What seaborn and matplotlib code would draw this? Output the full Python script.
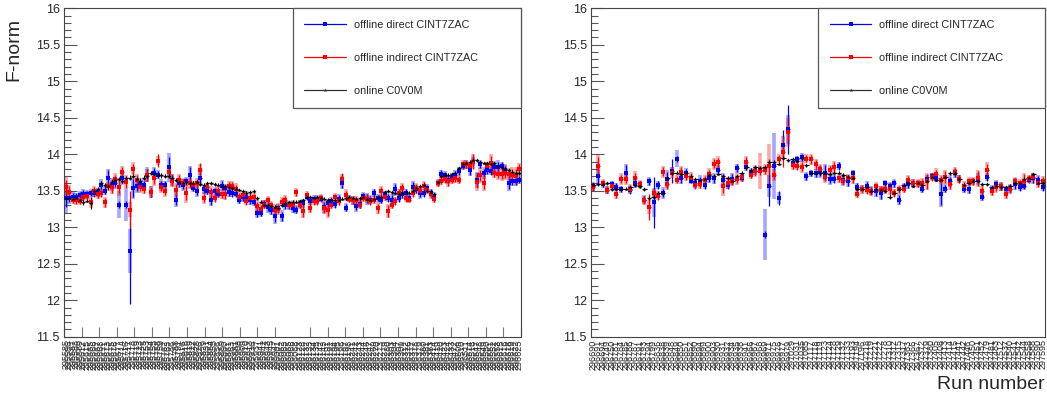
import numpy as np
import pandas as pd
import matplotlib
matplotlib.use("Agg")
import matplotlib.pyplot as plt
from matplotlib.lines import Line2D
from matplotlib.ticker import MultipleLocator, FixedLocator, FuncFormatter, NullFormatter
import seaborn as sns

sns.set_style("ticks")
plt.rcParams["font.family"] = ["Liberation Sans", "DejaVu Sans"]

# ---------------- run lists ----------------
runs_q = [295585, 295586, 295587, 295588, 295589, 295612, 295615, 295665, 295666, 295667,
          295668, 295671, 295673, 295675, 295676, 295677, 295714, 295716, 295717, 295718,
          295719, 295723, 295725, 295753, 295754, 295755, 295758, 295759, 295762, 295763,
          295786, 295788, 295791, 295816, 295818, 295819, 295822, 295825, 295826, 295829,
          295831, 295854, 295855, 295856, 295859, 295860, 295861, 295863, 295881, 295908,
          295909, 295910, 295913, 295936, 295937, 295941, 295942, 295943, 295945, 295947,
          296061, 296062, 296063, 296065, 296066, 296068, 296123, 296128, 296132, 296133,
          296134, 296135, 296142, 296143, 296191, 296192, 296194, 296195, 296196, 296197,
          296198, 296241, 296242, 296243, 296244, 296246, 296247, 296269, 296270, 296273,
          296279, 296280, 296303, 296304, 296307, 296309, 296312, 296376, 296377, 296378,
          296379, 296380, 296381, 296383, 296414, 296419, 296420, 296423, 296424, 296433,
          296472, 296509, 296510, 296511, 296514, 296516, 296547, 296548, 296549, 296550,
          296551, 296552, 296553, 296615, 296616, 296618, 296619, 296622, 296623]

runs_r = [296690, 296691, 296694, 296749, 296750, 296781, 296784, 296785, 296786, 296787,
          296791, 296793, 296794, 296799, 296836, 296838, 296839, 296848, 296849, 296850,
          296851, 296852, 296890, 296894, 296899, 296900, 296903, 296930, 296931, 296932,
          296934, 296935, 296938, 296941, 296966, 296967, 296968, 296969, 296971, 296975,
          296976, 296977, 296979, 297029, 297031, 297035, 297085, 297117, 297118, 297119,
          297123, 297124, 297128, 297129, 297132, 297133, 297193, 297194, 297196, 297218,
          297219, 297221, 297222, 297278, 297310, 297312, 297315, 297317, 297363, 297366,
          297367, 297372, 297379, 297380, 297405, 297408, 297413, 297414, 297415, 297441,
          297442, 297446, 297450, 297451, 297452, 297479, 297481, 297483, 297512, 297537,
          297540, 297541, 297542, 297544, 297558, 297588, 297590, 297595]

# ---------------- first period ----------------
direct_q = [13.40, 13.40, 13.42, 13.42, 13.44, 13.45, 13.45, 13.47, 13.47, 13.48,
            13.58, 13.50, 13.68, 13.58, 13.61, 13.31, 13.68, 13.31, 12.67, 13.54,
            13.56, 13.61, 13.58, 13.72, 13.48, 13.74, 13.72, 13.58, 13.58, 13.82,
            13.65, 13.38, 13.60, 13.58, 13.63, 13.72, 13.54, 13.50, 13.67, 13.52,
            13.50, 13.37, 13.49, 13.46, 13.57, 13.54, 13.48, 13.47, 13.46, 13.38,
            13.41, 13.42, 13.37, 13.35, 13.20, 13.20, 13.32, 13.28, 13.23, 13.15,
            13.26, 13.15, 13.31, 13.30, 13.27, 13.24, 13.32,
            13.33, 13.42, 13.36, 13.39, 13.38, 13.39, 13.28, 13.33, 13.36, 13.32,
            13.39, 13.61, 13.27, 13.39, 13.37, 13.29, 13.32, 13.43, 13.39, 13.38,
            13.47, 13.40, 13.38, 13.45, 13.40, 13.38, 13.52, 13.40, 13.45, 13.47,
            13.40, 13.55, 13.52, 13.47, 13.47, 13.54, 13.47, 13.42, 13.61, 13.73,
            13.72, 13.65, 13.69, 13.72, 13.77, 13.84, 13.86, 13.78, 13.90, 13.65,
            13.86, 13.74, 13.78, 13.77, 13.83, 13.82, 13.84, 13.78, 13.60, 13.63,
            13.64, 13.65]
direct_q_stat = [0.12, 0.06, 0.05, 0.05, 0.04, 0.06, 0.05, 0.04, 0.05, 0.05,
                 0.06, 0.05, 0.10, 0.07, 0.06, 0.05, 0.08, 0.05, 0.72, 0.12,
                 0.07, 0.05, 0.06, 0.08, 0.06, 0.07, 0.05, 0.06, 0.05, 0.14,
                 0.06, 0.08, 0.05, 0.06, 0.05, 0.10, 0.05, 0.06, 0.08, 0.05,
                 0.05, 0.06, 0.05, 0.05, 0.06, 0.04, 0.05, 0.05, 0.04, 0.05,
                 0.05, 0.06, 0.05, 0.05, 0.06, 0.05, 0.05, 0.06, 0.05, 0.08,
                 0.05, 0.06, 0.06, 0.05, 0.06, 0.05, 0.05, 0.05, 0.04, 0.05,
                 0.04, 0.05, 0.04, 0.06, 0.05, 0.04, 0.05, 0.05, 0.07, 0.05,
                 0.04, 0.05, 0.06, 0.05, 0.04, 0.06, 0.05, 0.05, 0.04, 0.05,
                 0.04, 0.05, 0.06, 0.07, 0.05, 0.05, 0.05, 0.04, 0.07, 0.05,
                 0.06, 0.05, 0.04, 0.05, 0.05, 0.04, 0.05, 0.04, 0.05, 0.04,
                 0.05, 0.05, 0.04, 0.05, 0.06, 0.05, 0.09, 0.05, 0.06, 0.05,
                 0.05, 0.06, 0.08, 0.05, 0.06, 0.08, 0.05, 0.06, 0.05]
direct_q_sys = [0.20, 0.08, 0.06, 0.05, 0.05, 0.08, 0.06, 0.05, 0.06, 0.06,
                0.08, 0.06, 0.12, 0.09, 0.08, 0.18, 0.10, 0.22, 0.30, 0.15,
                0.09, 0.06, 0.08, 0.10, 0.08, 0.09, 0.06, 0.08, 0.06, 0.20,
                0.08, 0.10, 0.06, 0.08, 0.06, 0.12, 0.06, 0.08, 0.10, 0.06,
                0.06, 0.08, 0.06, 0.06, 0.08, 0.05, 0.06, 0.06, 0.05, 0.06,
                0.06, 0.08, 0.06, 0.06, 0.08, 0.06, 0.06, 0.08, 0.06, 0.10,
                0.06, 0.08, 0.08, 0.06, 0.08, 0.06, 0.06, 0.06, 0.05, 0.06,
                0.05, 0.06, 0.05, 0.08, 0.06, 0.05, 0.06, 0.06, 0.09, 0.06,
                0.05, 0.06, 0.08, 0.06, 0.05, 0.08, 0.06, 0.06, 0.05, 0.06,
                0.05, 0.06, 0.08, 0.09, 0.06, 0.06, 0.06, 0.05, 0.09, 0.06,
                0.08, 0.06, 0.05, 0.06, 0.06, 0.05, 0.06, 0.05, 0.06, 0.05,
                0.06, 0.06, 0.05, 0.06, 0.08, 0.06, 0.11, 0.06, 0.08, 0.06,
                0.06, 0.08, 0.10, 0.06, 0.08, 0.10, 0.06, 0.08, 0.06]

indirect_q = [13.55, 13.48, 13.38, 13.37, 13.36, 13.42, 13.43, 13.34, 13.49, 13.45,
              13.47, 13.34, 13.56, 13.55, 13.66, 13.55, 13.76, 13.62, 13.24, 13.80,
              13.65, 13.55, 13.52, 13.71, 13.48, 13.67, 13.91, 13.55, 13.50, 13.76,
              13.64, 13.51, 13.65, 13.61, 13.47, 13.60, 13.58, 13.60, 13.79, 13.40,
              13.55, 13.48, 13.40, 13.49, 13.45, 13.45, 13.57, 13.57, 13.52, 13.42,
              13.44, 13.36, 13.40, 13.42, 13.29, 13.25, 13.31, 13.37, 13.30, 13.24,
              13.25, 13.35,
              13.38, 13.30, 13.31, 13.48, 13.31, 13.22, 13.44, 13.27, 13.36, 13.36,
              13.40, 13.26, 13.23, 13.31, 13.41, 13.36, 13.66, 13.44, 13.39, 13.37,
              13.37, 13.31, 13.40, 13.39, 13.36, 13.38, 13.26, 13.49, 13.42, 13.22,
              13.31, 13.36, 13.47, 13.54, 13.40, 13.38, 13.47, 13.54, 13.50, 13.57,
              13.51, 13.45, 13.39, 13.60, 13.64, 13.66, 13.63, 13.65, 13.67, 13.65,
              13.86, 13.86, 13.84, 13.90, 13.62, 13.71, 13.61, 13.84, 13.88, 13.75,
              13.73, 13.73, 13.75, 13.73, 13.72, 13.70, 13.80]
indirect_q_stat = [0.10, 0.08, 0.05, 0.05, 0.04, 0.05, 0.05, 0.06, 0.06, 0.05,
                   0.05, 0.06, 0.05, 0.08, 0.06, 0.08, 0.06, 0.08, 0.25, 0.07,
                   0.06, 0.06, 0.05, 0.07, 0.06, 0.08, 0.09, 0.06, 0.06, 0.06,
                   0.07, 0.08, 0.06, 0.05, 0.10, 0.06, 0.05, 0.06, 0.09, 0.06,
                   0.05, 0.06, 0.05, 0.06, 0.05, 0.06, 0.05, 0.05, 0.06, 0.05,
                   0.05, 0.05, 0.05, 0.04, 0.06, 0.06, 0.05, 0.05, 0.05, 0.06,
                   0.06, 0.05, 0.05, 0.04, 0.05, 0.05, 0.05, 0.08, 0.04, 0.06,
                   0.05, 0.05, 0.04, 0.06, 0.08, 0.05, 0.05, 0.05, 0.09, 0.06,
                   0.04, 0.05, 0.05, 0.05, 0.04, 0.05, 0.05, 0.05, 0.06, 0.06,
                   0.05, 0.08, 0.05, 0.05, 0.05, 0.05, 0.05, 0.04, 0.05, 0.05,
                   0.04, 0.05, 0.04, 0.05, 0.05, 0.04, 0.05, 0.05, 0.06, 0.05,
                   0.05, 0.05, 0.05, 0.05, 0.05, 0.10, 0.08, 0.07, 0.09, 0.05,
                   0.09, 0.06, 0.06, 0.07, 0.08, 0.06, 0.08, 0.10, 0.06]
indirect_q_sys = [0.14, 0.10, 0.06, 0.06, 0.05, 0.06, 0.06, 0.08, 0.08, 0.06,
                  0.06, 0.08, 0.06, 0.10, 0.08, 0.12, 0.08, 0.10, 0.10, 0.09,
                  0.08, 0.08, 0.06, 0.09, 0.08, 0.10, 0.06, 0.08, 0.08, 0.08,
                  0.09, 0.10, 0.08, 0.06, 0.14, 0.08, 0.06, 0.08, 0.07, 0.08,
                  0.06, 0.08, 0.06, 0.08, 0.06, 0.08, 0.06, 0.06, 0.08, 0.06,
                  0.06, 0.06, 0.06, 0.05, 0.08, 0.08, 0.06, 0.06, 0.06, 0.08,
                  0.08, 0.06, 0.06, 0.05, 0.06, 0.06, 0.06, 0.10, 0.05, 0.08,
                  0.06, 0.06, 0.05, 0.08, 0.10, 0.06, 0.06, 0.06, 0.07, 0.08,
                  0.05, 0.06, 0.06, 0.06, 0.05, 0.06, 0.06, 0.06, 0.08, 0.08,
                  0.06, 0.10, 0.06, 0.06, 0.06, 0.06, 0.06, 0.05, 0.06, 0.06,
                  0.05, 0.06, 0.05, 0.06, 0.06, 0.05, 0.06, 0.06, 0.08, 0.06,
                  0.06, 0.06, 0.06, 0.06, 0.06, 0.10, 0.12, 0.10, 0.12, 0.06,
                  0.12, 0.08, 0.08, 0.10, 0.10, 0.08, 0.10, 0.12, 0.08]

online_q = [13.40, 13.40, 13.39, 13.40, 13.37, 13.34, 13.36, 13.33, 13.49, 13.52,
            13.60, 13.58, 13.56, 13.62, 13.65, 13.66, 13.64, 13.67, 13.68, 13.70,
            13.66, 13.64, 13.68, 13.70, 13.74, 13.73, 13.72, 13.71, 13.70, 13.70,
            13.67, 13.65, 13.62, 13.61, 13.62, 13.60, 13.61, 13.62, 13.59, 13.58,
            13.60, 13.60, 13.59, 13.58, 13.57, 13.56, 13.55, 13.54, 13.52, 13.51,
            13.49, 13.47, 13.48, 13.49, 13.40, 13.35, 13.31, 13.30, 13.29, 13.28,
            13.26, 13.30, 13.33, 13.34, 13.35, 13.35, 13.36, 13.37, 13.42, 13.41,
            13.40, 13.41, 13.40, 13.39, 13.38, 13.38, 13.37, 13.38, 13.39, 13.40,
            13.41, 13.40, 13.39, 13.40, 13.41, 13.39, 13.38, 13.39, 13.40, 13.42,
            13.48, 13.49, 13.48, 13.47, 13.46, 13.47, 13.48, 13.47, 13.50, 13.54,
            13.56, 13.58, 13.50, 13.48, 13.45, 13.62, 13.70, 13.72, 13.72, 13.73,
            13.74, 13.81, 13.86, 13.88, 13.90, 13.92, 13.92, 13.89, 13.88, 13.88,
            13.87, 13.88, 13.84, 13.82, 13.80, 13.78, 13.76, 13.74, 13.74]
online_q_err = [0.02, 0.02, 0.02, 0.02, 0.02, 0.03, 0.02, 0.08, 0.04, 0.03,
                0.04, 0.03, 0.03, 0.04, 0.03, 0.03, 0.04, 0.03, 0.03, 0.03,
                0.03, 0.03, 0.03, 0.03, 0.03, 0.03, 0.03, 0.03, 0.03, 0.03,
                0.03, 0.03, 0.03, 0.03, 0.03, 0.03, 0.03, 0.03, 0.03, 0.03,
                0.02, 0.02, 0.02, 0.02, 0.02, 0.02, 0.02, 0.02, 0.02, 0.02,
                0.02, 0.02, 0.02, 0.02, 0.02, 0.02, 0.03, 0.02, 0.02, 0.02,
                0.02, 0.02, 0.02, 0.02, 0.02, 0.02, 0.02, 0.02, 0.02, 0.02,
                0.02, 0.02, 0.02, 0.02, 0.02, 0.02, 0.02, 0.02, 0.02, 0.02,
                0.02, 0.02, 0.02, 0.02, 0.02, 0.02, 0.02, 0.02, 0.02, 0.02,
                0.02, 0.02, 0.02, 0.02, 0.02, 0.02, 0.02, 0.02, 0.02, 0.02,
                0.02, 0.02, 0.02, 0.02, 0.02, 0.02, 0.02, 0.02, 0.02, 0.02,
                0.02, 0.02, 0.02, 0.02, 0.02, 0.02, 0.02, 0.02, 0.02, 0.02,
                0.02, 0.02, 0.02, 0.02, 0.02, 0.02, 0.02, 0.02, 0.02]

# ---------------- second period ----------------
direct_r = [13.56, 13.70, 13.59, 13.51, 13.59, 13.55, 13.52, 13.75, 13.51, 13.60,
            13.59, 13.38, 13.63, 13.34, 13.58, 13.47, 13.66, 13.77, 13.94, 13.67,
            13.75, 13.64, 13.60, 13.63, 13.58, 13.67, 13.67, 13.79, 13.65, 13.58,
            13.66, 13.81, 13.68, 13.83, 13.76, 13.77, 13.79, 12.90, 13.56, 13.84,
            13.40, 14.13, 14.34, 13.88, 13.93, 13.96, 13.70, 13.74,
            13.74, 13.76, 13.75, 13.66, 13.66, 13.84, 13.65, 13.63, 13.74, 13.55,
            13.53, 13.57, 13.50, 13.49, 13.47, 13.60, 13.56, 13.60, 13.38, 13.55,
            13.59, 13.61, 13.60, 13.53, 13.66, 13.70, 13.67, 13.46, 13.53, 13.63,
            13.74, 13.66, 13.53, 13.52, 13.63, 13.66, 13.42, 13.69, 13.53, 13.59,
            13.56, 13.52, 13.53, 13.59, 13.55, 13.57, 13.65, 13.67, 13.65, 13.55]
direct_r_stat = [0.05, 0.10, 0.04, 0.04, 0.04, 0.05, 0.04, 0.10, 0.05, 0.05,
                 0.04, 0.05, 0.05, 0.35, 0.05, 0.06, 0.10, 0.17, 0.04, 0.06,
                 0.05, 0.04, 0.05, 0.06, 0.05, 0.05, 0.06, 0.05, 0.08, 0.05,
                 0.07, 0.05, 0.05, 0.05, 0.04, 0.05, 0.04, 0.05, 0.27, 0.05,
                 0.10, 0.20, 0.33, 0.05, 0.04, 0.05, 0.05, 0.04,
                 0.05, 0.06, 0.10, 0.06, 0.05, 0.05, 0.06, 0.06, 0.04, 0.05,
                 0.04, 0.05, 0.05, 0.06, 0.08, 0.04, 0.05, 0.05, 0.06, 0.04,
                 0.05, 0.04, 0.04, 0.05, 0.05, 0.04, 0.04, 0.15, 0.05, 0.06,
                 0.05, 0.05, 0.05, 0.05, 0.04, 0.06, 0.05, 0.05, 0.04, 0.05,
                 0.05, 0.04, 0.05, 0.06, 0.05, 0.05, 0.04, 0.06, 0.05, 0.05]
direct_r_sys = [0.06, 0.12, 0.05, 0.05, 0.05, 0.06, 0.05, 0.12, 0.06, 0.06,
                0.05, 0.06, 0.06, 0.20, 0.06, 0.08, 0.12, 0.05, 0.12, 0.08,
                0.06, 0.05, 0.06, 0.08, 0.06, 0.06, 0.08, 0.06, 0.10, 0.06,
                0.08, 0.06, 0.06, 0.06, 0.05, 0.06, 0.05, 0.35, 0.15, 0.45,
                0.08, 0.12, 0.20, 0.06, 0.05, 0.06, 0.06, 0.05,
                0.06, 0.08, 0.12, 0.08, 0.06, 0.06, 0.08, 0.08, 0.05, 0.06,
                0.05, 0.06, 0.06, 0.08, 0.10, 0.05, 0.06, 0.06, 0.08, 0.05,
                0.06, 0.05, 0.05, 0.06, 0.06, 0.05, 0.05, 0.18, 0.06, 0.08,
                0.06, 0.06, 0.06, 0.06, 0.05, 0.08, 0.06, 0.06, 0.05, 0.06,
                0.06, 0.05, 0.06, 0.08, 0.06, 0.06, 0.05, 0.08, 0.06, 0.06]

indirect_r = [13.55, 13.84, 13.61, 13.51, 13.56, 13.45, 13.66, 13.66, 13.53, 13.67,
              13.59, 13.37, 13.28, 13.47, 13.43, 13.76, 13.59, 13.75, 13.65, 13.76,
              13.70, 13.68, 13.58, 13.59, 13.65, 13.73, 13.87, 13.89, 13.57, 13.61,
              13.63, 13.66, 13.69, 13.90, 13.72, 13.77, 13.77, 13.79, 13.84, 13.72,
              13.94, 14.03, 14.30, 13.85, 13.84, 13.83, 13.94, 13.93,
              13.86, 13.80, 13.69, 13.79, 13.83, 13.67, 13.64, 13.67, 13.67, 13.46,
              13.52, 13.51, 13.49, 13.56, 13.51, 13.52, 13.52, 13.47, 13.52, 13.53,
              13.65, 13.60, 13.60, 13.60, 13.63, 13.69, 13.73, 13.65, 13.69, 13.59,
              13.76, 13.66, 13.57, 13.63, 13.63, 13.67, 13.50, 13.79, 13.49, 13.55,
              13.56, 13.45, 13.52, 13.63, 13.60, 13.64, 13.66, 13.69, 13.60, 13.64]
indirect_r_stat = [0.05, 0.12, 0.04, 0.04, 0.05, 0.05, 0.06, 0.06, 0.05, 0.08,
                   0.05, 0.05, 0.18, 0.05, 0.05, 0.06, 0.06, 0.06, 0.05, 0.06,
                   0.05, 0.06, 0.05, 0.05, 0.05, 0.06, 0.06, 0.06, 0.10, 0.06,
                   0.05, 0.06, 0.05, 0.06, 0.05, 0.06, 0.05, 0.06, 0.10, 0.06,
                   0.05, 0.20, 0.10, 0.05, 0.05, 0.06, 0.05, 0.06,
                   0.06, 0.05, 0.06, 0.05, 0.06, 0.05, 0.05, 0.05, 0.06, 0.05,
                   0.05, 0.05, 0.05, 0.05, 0.05, 0.05, 0.06, 0.05, 0.05, 0.05,
                   0.05, 0.05, 0.05, 0.06, 0.10, 0.05, 0.06, 0.05, 0.08, 0.06,
                   0.05, 0.05, 0.05, 0.05, 0.05, 0.10, 0.05, 0.08, 0.05, 0.06,
                   0.05, 0.05, 0.05, 0.05, 0.05, 0.09, 0.05, 0.05, 0.05, 0.05]
indirect_r_sys = [0.06, 0.16, 0.05, 0.05, 0.06, 0.06, 0.08, 0.08, 0.06, 0.10,
                  0.06, 0.06, 0.10, 0.06, 0.06, 0.08, 0.08, 0.08, 0.06, 0.08,
                  0.06, 0.08, 0.06, 0.06, 0.06, 0.08, 0.08, 0.08, 0.14, 0.08,
                  0.06, 0.08, 0.06, 0.08, 0.06, 0.08, 0.25, 0.08, 0.30, 0.08,
                  0.06, 0.10, 0.20, 0.06, 0.06, 0.08, 0.06, 0.08,
                  0.08, 0.06, 0.08, 0.06, 0.08, 0.06, 0.06, 0.06, 0.08, 0.06,
                  0.06, 0.06, 0.06, 0.06, 0.06, 0.06, 0.08, 0.06, 0.06, 0.06,
                  0.06, 0.06, 0.06, 0.08, 0.12, 0.06, 0.08, 0.06, 0.10, 0.08,
                  0.06, 0.06, 0.06, 0.06, 0.06, 0.12, 0.06, 0.10, 0.06, 0.08,
                  0.06, 0.06, 0.06, 0.06, 0.06, 0.11, 0.06, 0.06, 0.06, 0.06]

online_r = [13.58, 13.59, 13.59, 13.60, 13.52, 13.53, 13.52, 13.53, 13.55, 13.58,
            13.56, 13.52, 13.40, 13.42, 13.47, 13.47, 13.67, 13.74, 13.75, 13.73,
            13.75, 13.70, 13.66, 13.65, 13.66, 13.72, 13.70, 13.73, 13.70, 13.68,
            13.64, 13.70, 13.75, 13.82, 13.79, 13.82, 13.81, 13.82, 13.89, 13.90,
            13.87, 13.95, 13.92, 13.93, 13.91, 13.95, 13.85, 13.75,
            13.74, 13.74, 13.75, 13.73, 13.75, 13.75, 13.72, 13.69, 13.68, 13.53,
            13.53, 13.55, 13.49, 13.53, 13.51, 13.50, 13.42, 13.47, 13.52, 13.58,
            13.60, 13.57, 13.61, 13.58, 13.64, 13.69, 13.65, 13.65, 13.69, 13.74,
            13.74, 13.66, 13.58, 13.61, 13.64, 13.63, 13.59, 13.59, 13.55, 13.57,
            13.55, 13.55, 13.57, 13.61, 13.61, 13.66, 13.67, 13.73, 13.61, 13.61]
online_r_err = [0.02, 0.02, 0.02, 0.02, 0.02, 0.02, 0.02, 0.02, 0.02, 0.02,
                0.02, 0.02, 0.03, 0.02, 0.02, 0.02, 0.02, 0.02, 0.02, 0.02,
                0.02, 0.02, 0.02, 0.02, 0.02, 0.02, 0.02, 0.02, 0.02, 0.02,
                0.02, 0.02, 0.02, 0.02, 0.02, 0.02, 0.02, 0.02, 0.02, 0.02,
                0.02, 0.02, 0.02, 0.02, 0.02, 0.02, 0.02, 0.02,
                0.02, 0.02, 0.02, 0.02, 0.02, 0.02, 0.02, 0.02, 0.02, 0.02,
                0.02, 0.02, 0.02, 0.02, 0.02, 0.02, 0.03, 0.02, 0.02, 0.02,
                0.02, 0.02, 0.02, 0.02, 0.02, 0.02, 0.02, 0.02, 0.02, 0.02,
                0.02, 0.02, 0.02, 0.02, 0.02, 0.02, 0.02, 0.02, 0.02, 0.02,
                0.02, 0.02, 0.02, 0.02, 0.02, 0.02, 0.02, 0.02, 0.02, 0.02]

series_labels = ["offline direct CINT7ZAC", "offline indirect CINT7ZAC", "online C0V0M"]
BLUE, RED, BLACK = "#0000ff", "#ff0000", "#000000"
FRAME = "#444444"


def draw_panel(ax, runs, direct, d_stat, d_sys, indirect, i_stat, i_sys,
               online, o_err, tick_positions):
    n = len(runs)
    idx = np.arange(n)
    df = pd.DataFrame({
        "bin": np.concatenate([idx, idx, idx]),
        "fnorm": np.concatenate([direct, indirect, online]),
        "series": [series_labels[0]] * n + [series_labels[1]] * n + [series_labels[2]] * n,
    })

    # direct trigger: wide translucent band + thin bar + small square
    ax.errorbar(idx, direct, yerr=d_sys, fmt="none", ecolor=BLUE, alpha=0.35,
                elinewidth=2.6, capsize=0, zorder=2)
    ax.errorbar(idx, direct, yerr=d_stat, xerr=0.35, fmt="none", ecolor=BLUE,
                elinewidth=0.9, capsize=0, zorder=2.1)
    # indirect trigger
    ax.errorbar(idx, indirect, yerr=i_sys, fmt="none", ecolor=RED, alpha=0.35,
                elinewidth=2.6, capsize=0, zorder=2.2)
    ax.errorbar(idx, indirect, yerr=i_stat, xerr=0.35, fmt="none", ecolor=RED,
                elinewidth=0.9, capsize=0, zorder=2.3)
    # online
    ax.errorbar(idx, online, yerr=o_err, xerr=0.5, fmt="none", ecolor=BLACK,
                elinewidth=0.7, capsize=0, zorder=2.6)

    sns.scatterplot(data=df[df.series == series_labels[0]], x="bin", y="fnorm",
                    marker="s", s=6, color=BLUE, linewidth=0, ax=ax, legend=False, zorder=3)
    sns.scatterplot(data=df[df.series == series_labels[1]], x="bin", y="fnorm",
                    marker="s", s=10, color=RED, linewidth=0, ax=ax, legend=False, zorder=3.1)
    sns.scatterplot(data=df[df.series == series_labels[2]], x="bin", y="fnorm",
                    marker="*", s=11, color=BLACK, linewidth=0, ax=ax, legend=False, zorder=3.2)

    ax.set_xlim(-0.5, n - 0.5)
    ax.set_ylim(11.5, 16)
    ax.set_xlabel("")
    ax.set_ylabel("")

    # y axis: major every 0.5, minor every 0.1, inward ticks
    ax.yaxis.set_major_locator(MultipleLocator(0.5))
    ax.yaxis.set_minor_locator(MultipleLocator(0.1))
    ax.yaxis.set_major_formatter(FuncFormatter(lambda v, p: f"{v:g}"))
    ax.tick_params(axis="y", which="major", direction="in", length=9.5, width=0.8,
                   color="#555555", labelsize=9, pad=3, right=False)
    ax.tick_params(axis="y", which="minor", direction="in", length=5, width=0.8,
                   color="#555555", right=False)

    # x axis: run labels at every bin, division ticks drawn separately
    ax.xaxis.set_major_locator(FixedLocator(idx))
    ax.set_xticklabels([str(r) for r in runs], rotation=90, fontsize=6.5)
    ax.xaxis.set_minor_locator(FixedLocator(tick_positions))
    ax.xaxis.set_minor_formatter(NullFormatter())
    ax.tick_params(axis="x", which="major", direction="in", length=0, pad=2, top=False)
    ax.tick_params(axis="x", which="minor", direction="in", length=7.5, width=0.8,
                   color="#777777", top=False)

    for sp in ax.spines.values():
        sp.set_color(FRAME)
        sp.set_linewidth(0.8)

    handles = [
        Line2D([0], [0], color=BLUE, lw=0.9, marker="s", markersize=2.2, markeredgewidth=0),
        Line2D([0], [0], color=RED, lw=0.9, marker="s", markersize=2.8, markeredgewidth=0),
        Line2D([0], [0], color="#333333", lw=0.9, marker="*", markersize=3, markeredgewidth=0),
    ]
    leg = ax.legend(handles, series_labels, loc="upper left",
                    bbox_to_anchor=(0.5, 0.0, 0.5, 1.0), mode="expand",
                    borderaxespad=0.0, fontsize=7.8, frameon=True, fancybox=False,
                    handlelength=3.8, handletextpad=0.75, labelspacing=2.1,
                    borderpad=1.1)
    leg.get_frame().set_edgecolor("#555555")
    leg.get_frame().set_linewidth(0.9)
    leg.get_frame().set_facecolor("white")
    leg.get_frame().set_alpha(1.0)


fig = plt.figure(figsize=(10.47, 4.01), dpi=100)
ax_q = fig.add_axes([64 / 1047, 1 - 336.7 / 401, 457 / 1047, 328.4 / 401])
ax_r = fig.add_axes([591 / 1047, 1 - 336.7 / 401, 454 / 1047, 328.4 / 401])

draw_panel(ax_q, runs_q, direct_q, direct_q_stat, direct_q_sys,
           indirect_q, indirect_q_stat, indirect_q_sys, online_q, online_q_err,
           np.linspace(-0.5, len(runs_q) - 0.5, 27))
draw_panel(ax_r, runs_r, direct_r, direct_r_stat, direct_r_sys,
           indirect_r, indirect_r_stat, indirect_r_sys, online_r, online_r_err,
           np.arange(len(runs_r)))

ax_q.set_ylabel("F-norm", fontsize=14, loc="top")
ax_q.yaxis.set_label_coords(-0.09, 0.97)
ax_r.set_xlabel("Run number", fontsize=14, loc="right")
ax_r.xaxis.set_label_coords(1.0, -0.12)

fig.savefig("out.png", dpi=100)
